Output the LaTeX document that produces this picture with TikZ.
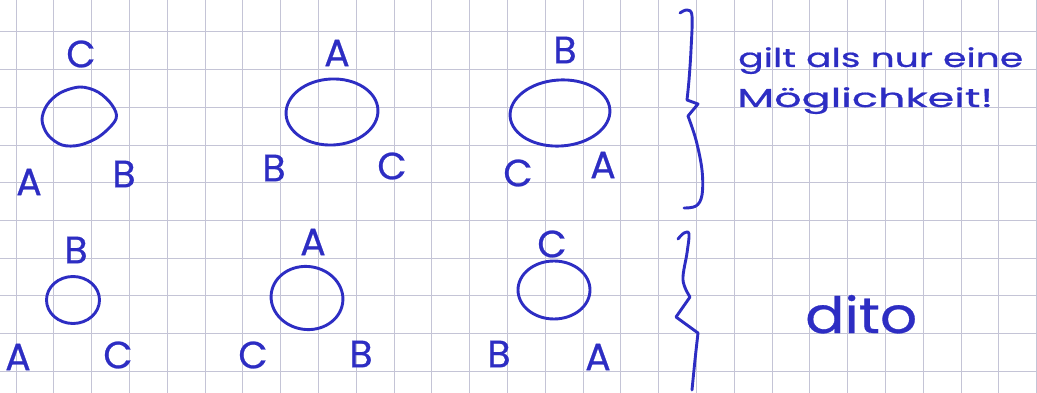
\documentclass[tikz,border=0pt]{standalone}
\usepackage{graphicx}
\usepackage{fontspec}
\setmainfont{Poppins}[FakeBold=0.6]
\usetikzlibrary{shapes.geometric}
\definecolor{ink}{RGB}{45,45,195}
\definecolor{gridc}{RGB}{196,196,214}
\begin{document}
\begin{tikzpicture}[x=1pt,y=-1pt,
  letter/.style={text=ink, font=\fontsize{38}{40}\selectfont, inner sep=0pt},
  ring/.style={draw=ink, line width=2.9pt, ellipse, inner sep=0pt},
  pen/.style={draw=ink, line width=2.9pt, line cap=round, line join=round},
  note/.style={text=ink, inner sep=0pt, anchor=base west},
  gridline/.style={draw=gridc, line width=1pt}]
\useasboundingbox (0,0) rectangle (1037,393);
\fill[white] (0,0) rectangle (1037,393);
\foreach \k in {0,...,27} \draw[gridline] ({16+37.8*\k},0) -- ({16+37.8*\k},393);
\foreach \k in {0,...,9} \draw[gridline] (0,{32+37.7*\k}) -- (1037,{32+37.7*\k});

% row 1, group 1
\node[letter] (c1) at (81,54) {C};
\draw[pen] plot[smooth cycle, tension=0.55] coordinates {(42,120) (48,135) (62,145) (80,145) (100,136) (116,119) (112,105) (98,92) (80,87) (60,93) (47,105)};
\node[letter] (a1) at (29,182) {A};
\node[letter] (b1) at (124,174) {B};
% row 1, group 2
\node[letter] (a2) at (337,53) {A};
\node[ring, minimum width=92pt, minimum height=66pt, rotate=3] (o2) at (332,112) {};
\node[letter] (b2) at (274,168) {B};
\node[letter] (c2) at (392,166) {C};
% row 1, group 3
\node[letter] (b3) at (565,50) {B};
\node[ring, minimum width=100pt, minimum height=66pt, rotate=4] (o3) at (560,113) {};
\node[letter] (c3) at (518,173) {C};
\node[letter] (a3) at (603,165) {A};
% row 2, group 4
\node[letter] (b4) at (76,250) {B};
\node[ring, minimum width=53pt, minimum height=47pt] (o4) at (73,300) {};
\node[letter] (a4) at (18,357) {A};
\node[letter] (c4) at (118,355) {C};
% row 2, group 5
\node[letter] (a5) at (313,242) {A};
\node[ring, minimum width=72pt, minimum height=63pt, rotate=-8] (o5) at (307,298) {};
\node[letter] (c5) at (253,355) {C};
\node[letter] (b5) at (361,354) {B};
% row 2, group 6
\node[letter] (c6) at (552,244) {C};
\node[ring, minimum width=72pt, minimum height=58pt] (o6) at (554,290) {};
\node[letter] (b6) at (499,354) {B};
\node[letter] (a6) at (598,357) {A};

% braces
\draw[pen] plot[smooth, tension=0.6] coordinates {(680,13) (687,10) (692,16) (691,50) (689,80) (687,100)} -- (698,104) -- plot[smooth, tension=0.6] coordinates {(688,116) (696,140) (702,170) (702,195) (696,206) (684,208)};
\draw[pen] plot[smooth, tension=0.6] coordinates {(678,239) (684,233) (689,234) (687,253) (683,280) (690,297)} -- (676,317) -- plot[smooth, tension=0.6] coordinates {(698,333) (695,360) (692,390)};

% notes
\node[note, font=\fontsize{26}{28}\selectfont] (t1) at (738,67) {\resizebox{285pt}{\height}{gilt als nur eine}};
\node[note, font=\fontsize{26}{28}\selectfont] (t2) at (737,107) {\resizebox{256pt}{\height}{Möglichkeit!}};
\node[note, font=\fontsize{50}{52}\selectfont] (t3) at (805,333) {\resizebox{112pt}{\height}{dito}};
\end{tikzpicture}
\end{document}
